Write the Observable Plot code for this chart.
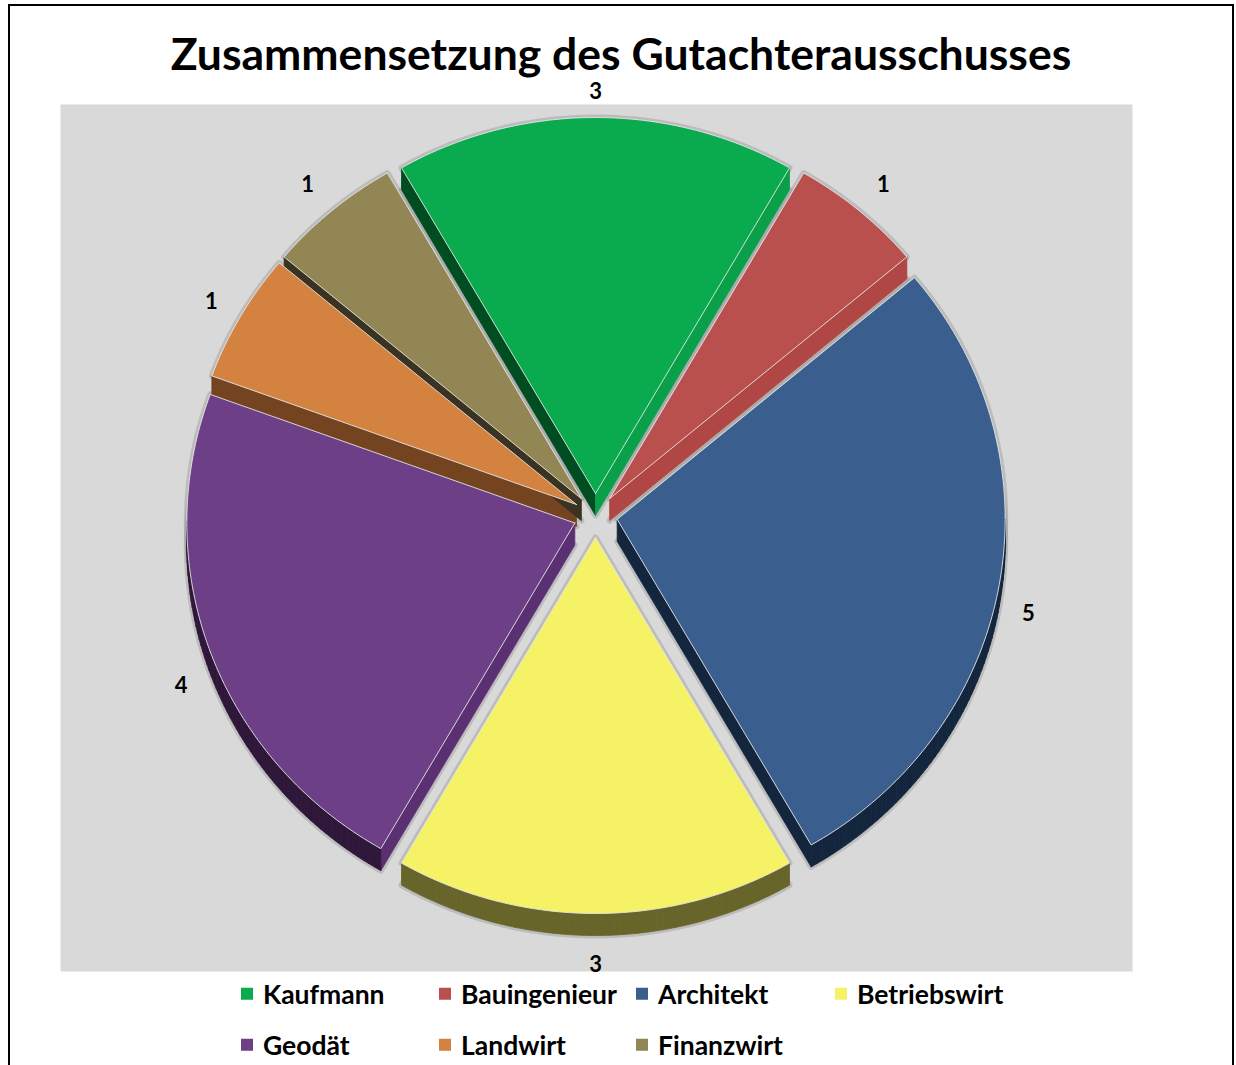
<!DOCTYPE html>
<html>
<head>
<meta charset="utf-8">
<script src="https://cdn.jsdelivr.net/npm/d3@7"></script>
<script src="https://cdn.jsdelivr.net/npm/@observablehq/plot@0.6"></script>
<style>
  html, body { margin: 0; padding: 0; background: #fff; }
  #page { position: relative; width: 1236px; height: 1065px; overflow: hidden; font-family: Lato, "Open Sans", sans-serif; }
  #border { position: absolute; left: 8px; top: 4px; width: 1226px; height: 1120px; border: 2px solid #000; box-sizing: border-box; }
  #title { position: absolute; left: 8px; width: 1226px; top: 31px; text-align: center; font-size: 44.5px; line-height: 1; font-weight: 700; color: #000; white-space: nowrap; }
  #chart { position: absolute; left: 0; top: 80px; }
  .item { position: absolute; display: flex; align-items: center; gap: 10px; transform: translateY(-50%); font-size: 26.5px; font-weight: 700; line-height: 1; color: #000; white-space: nowrap; }
  .sw { width: 12px; height: 12px; }
</style>
</head>
<body>
<div id="page">
  <div id="border"></div>
  <div id="title">Zusammensetzung des Gutachterausschusses</div>
  <div id="chart"></div>
  <div id="legend"></div>
</div>
<script>
// ---- data ----
const categories = ["Kaufmann", "Bauingenieur", "Architekt", "Betriebswirt", "Geodät", "Landwirt", "Finanzwirt"];
const values = [3, 1, 5, 3, 4, 1, 1];
const topColors = ["#0aab4f", "#b9504d", "#3a5f8f", "#f5f365", "#6d3f87", "#d38240", "#928754"];
const darkColors = ["#004d21", "#7d2f2d", "#13263d", "#68652a", "#2e1739", "#744420", "#3a3322"];
const lightWallColors = ["#0aa04a", "#b04744", "#33567f", "#e0de55", "#5b3072", "#c0733a", "#857a4a"];
const legendColumns = [241, 439, 636, 835];
const legendRows = [994, 1045];

// ---- geometry (layout constants) ----
const RX = 388, RY = 376, EXPLODE = 22, DEPTH = 22, GAP_X = 29, GAP_Y = 26;

const pie = d3.pie().sort(null).value(d => d.value)
  .startAngle(-Math.PI / 6).endAngle(2 * Math.PI - Math.PI / 6);
const arcs = pie(categories.map((c, i) => ({category: c, value: values[i], i})));

const topRows = [], sideRows = [], haloRows = [], labelRows = [];
arcs.forEach(a => {
  const i = a.data.i;
  const m = (a.startAngle + a.endAngle) / 2;
  const ox = EXPLODE * Math.sin(m), oy = EXPLODE * Math.cos(m);
  const n = Math.max(2, Math.ceil((a.endAngle - a.startAngle) / (Math.PI / 180)));
  const pts = [{x: ox, y: oy, rim: false}];
  for (let k = 0; k <= n; k++) {
    const t = a.startAngle + (a.endAngle - a.startAngle) * k / n;
    pts.push({x: ox + RX * Math.sin(t), y: oy + RY * Math.cos(t), rim: true});
  }
  [...pts, pts[0]].forEach(p => {
    topRows.push({id: "t" + i, x: p.x, y: p.y, color: topColors[i]});
    haloRows.push({id: "ht" + i, x: p.x, y: p.y});
    haloRows.push({id: "hb" + i, x: p.x, y: p.y - DEPTH});
  });
  for (let k = 0; k < pts.length; k++) {
    const p = pts[k], q = pts[(k + 1) % pts.length];
    const dx = q.x - p.x, dy = q.y - p.y;
    const nx = -dy, ny = dx;
    if (ny >= 0) continue;
    const isRim = p.rim && q.rim;
    const color = isRim ? darkColors[i] : (nx < 0 ? darkColors[i] : lightWallColors[i]);
    const id = "s" + i + "_" + k;
    [p, q, {x: q.x, y: q.y - DEPTH}, {x: p.x, y: p.y - DEPTH}, p]
      .forEach(r => sideRows.push({id, x: r.x, y: r.y, color}));
  }
  // outside-end data label
  const s = Math.sin(m), c = Math.cos(m), mx = Math.max(Math.abs(s), Math.abs(c));
  labelRows.push({
    text: String(values[i]),
    x: ox + RX * s + GAP_X * s / mx,
    y: oy + RY * c + GAP_Y * c / mx - (c < 0 ? DEPTH + 3 : 0)
  });
});

const haloMarks = d3.groups(haloRows, d => d.id).map(([id, rows]) =>
  Plot.line(rows, {x: "x", y: "y", fill: "none", stroke: "#8f8f8f", strokeOpacity: 0.38, strokeWidth: 6, curve: "linear-closed"}));
const sideMarks = d3.groups(sideRows, d => d.id).map(([id, rows]) =>
  Plot.line(rows, {x: "x", y: "y", fill: rows[0].color, stroke: rows[0].color, strokeWidth: 0.8, curve: "linear-closed"}));
const topMarks = d3.groups(topRows, d => d.id).map(([id, rows]) =>
  Plot.line(rows, {x: "x", y: "y", fill: rows[0].color, stroke: "#e4e4e4", strokeWidth: 0.9, curve: "linear-closed"}));

const chart = Plot.plot({
  width: 1236,
  height: 895,
  marginLeft: 60,
  marginRight: 104,
  marginTop: 24,
  marginBottom: 4,
  x: {domain: [-535, 537], axis: null},
  y: {domain: [-456, 411], axis: null},
  style: {background: "transparent", overflow: "visible"},
  marks: [
    Plot.frame({fill: "#d9d9d9", stroke: "none"}),
    ...haloMarks,
    ...sideMarks,
    ...topMarks,
    Plot.text(labelRows, {x: "x", y: "y", text: "text", fontSize: 22, fontWeight: "bold", fill: "#000", fontFamily: "Lato, sans-serif"})
  ]
});
document.getElementById("chart").appendChild(chart);

// ---- legend ----
const legend = document.getElementById("legend");
categories.forEach((c, i) => {
  const row = Math.floor(i / 4), col = i % 4;
  const el = document.createElement("div");
  el.className = "item";
  el.style.left = legendColumns[col] + "px";
  el.style.top = legendRows[row] + "px";
  const sw = document.createElement("div");
  sw.className = "sw";
  sw.style.background = topColors[i];
  const tx = document.createElement("span");
  tx.textContent = c;
  el.appendChild(sw);
  el.appendChild(tx);
  legend.appendChild(el);
});
</script>
</body>
</html>
